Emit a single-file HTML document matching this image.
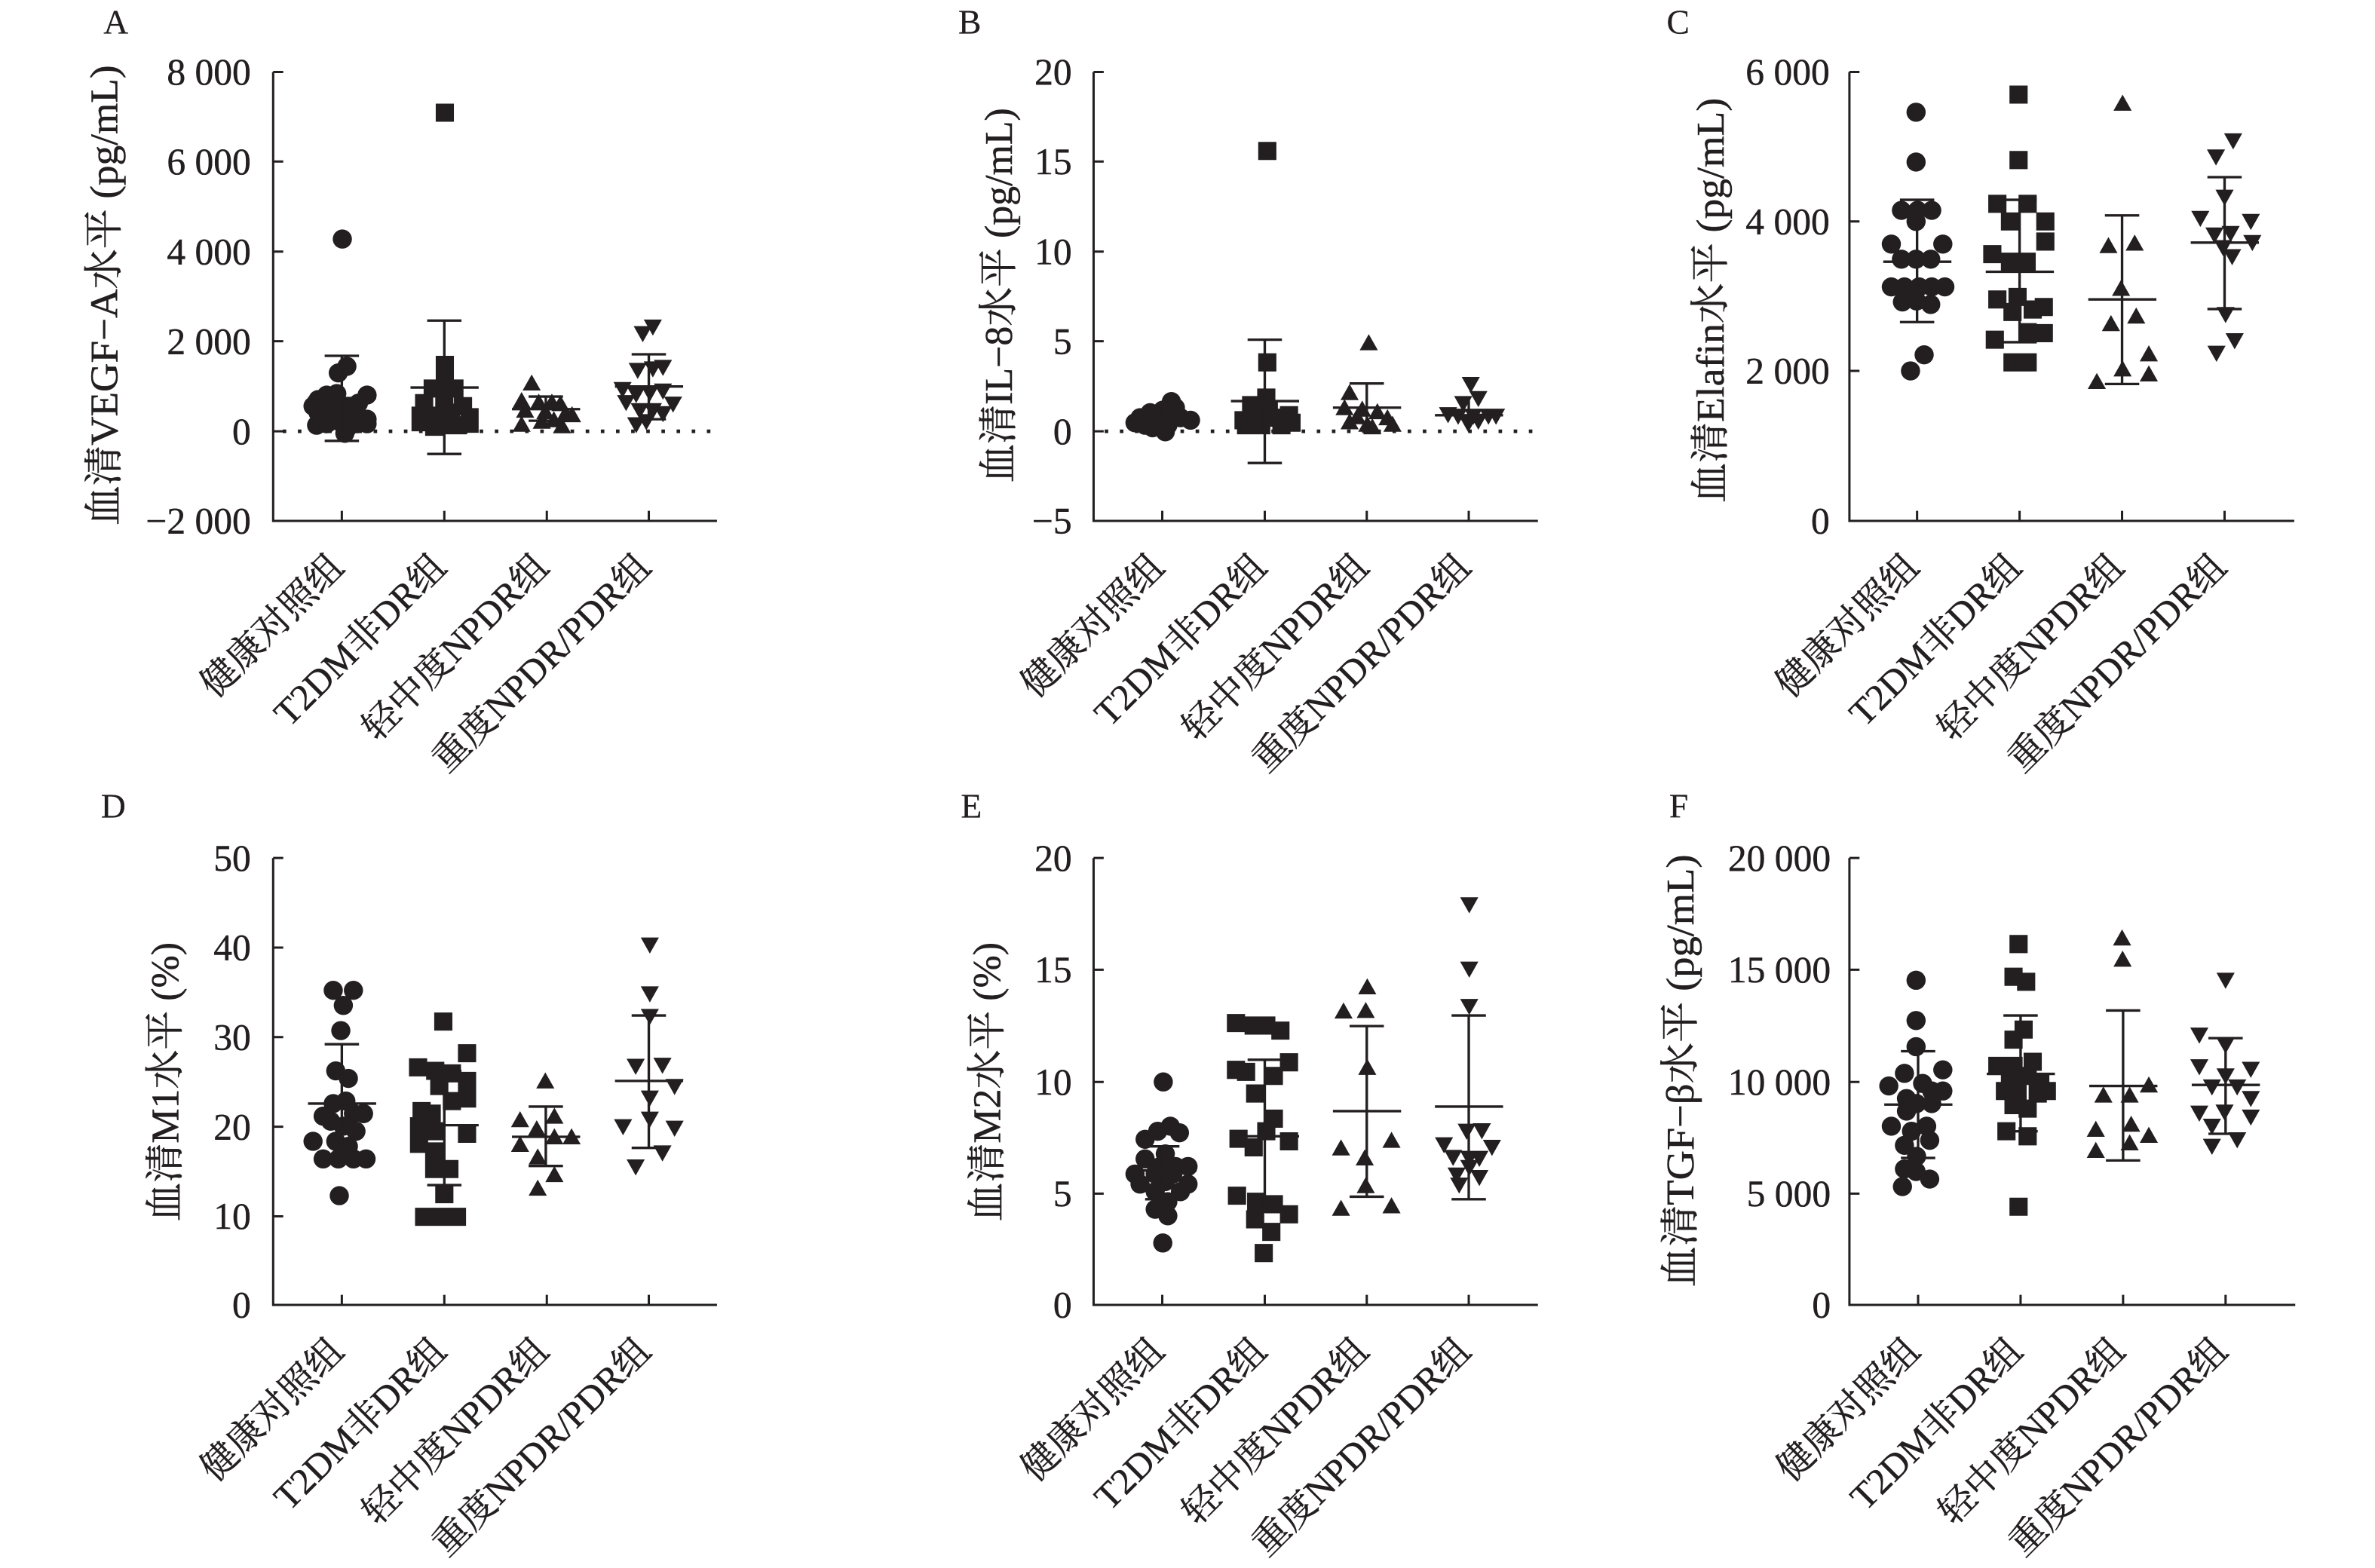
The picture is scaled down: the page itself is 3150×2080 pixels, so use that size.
<!DOCTYPE html>
<html><head><meta charset="utf-8">
<style>
html,body{margin:0;padding:0;background:#fff;}
svg{display:block;}
text{font-family:"Liberation Serif","Noto Serif CJK SC",serif;fill:#231f20;stroke:#231f20;stroke-width:0.7;}
.tk{font-size:74px;text-anchor:end;}
.cl{font-size:73px;text-anchor:end;}
.yl{font-size:78px;text-anchor:middle;}
.lt{font-size:68px;stroke-width:0.4;}
.ax{fill:none;stroke:#231f20;stroke-width:4.5;}
.eb{fill:none;stroke:#231f20;stroke-width:5;}
.dot{fill:none;stroke:#231f20;stroke-width:7;stroke-dasharray:7 23;}
.mk{fill:#231f20;stroke:none;}
</style></head>
<body>
<svg width="3150" height="2080" viewBox="0 0 3150 2080" xmlns="http://www.w3.org/2000/svg">
<rect width="3150" height="2080" fill="#fff"/>

<!-- ============ PANEL A ============ -->
<g transform="translate(0,0) scale(0.66967,0.6676)">
<text class="lt" x="205" y="67">A</text>
<path class="ax" d="M541 143V1035H1420 M541 143h20 M541 321h20 M541 500h20 M541 678h20 M541 857h20 M677 1035v-20 M880 1035v-20 M1083 1035v-20 M1285 1035v-20"/>
<text class="tk" x="497" y="168">8 000</text>
<text class="tk" x="497" y="346">6 000</text>
<text class="tk" x="497" y="525">4 000</text>
<text class="tk" x="497" y="703">2 000</text>
<text class="tk" x="497" y="882">0</text>
<text class="tk" x="497" y="1060">−2 000</text>
<text class="yl" transform="translate(232,587) rotate(-90)" textLength="915" lengthAdjust="spacingAndGlyphs">血清VEGF−A水平 (pg/mL)</text>
<text class="cl" transform="translate(685,1131) rotate(-45)">健康对照组</text>
<text class="cl" transform="translate(888,1131) rotate(-45)">T2DM非DR组</text>
<text class="cl" transform="translate(1091,1131) rotate(-45)">轻中度NPDR组</text>
<text class="cl" transform="translate(1293,1131) rotate(-45)">重度NPDR/PDR组</text>
<path class="dot" d="M560 857H1420"/>
<g class="mk">
<circle cx="678" cy="475" r="19"/><circle cx="670" cy="741" r="19"/><circle cx="687" cy="728" r="19"/><circle cx="630" cy="794" r="19"/><circle cx="647" cy="785" r="19"/><circle cx="667" cy="782" r="19"/><circle cx="727" cy="785" r="19"/><circle cx="710" cy="801" r="19"/><circle cx="630" cy="820" r="19"/><circle cx="653" cy="814" r="19"/><circle cx="680" cy="807" r="19"/><circle cx="700" cy="823" r="19"/><circle cx="727" cy="833" r="19"/><circle cx="627" cy="845" r="19"/><circle cx="647" cy="842" r="19"/><circle cx="687" cy="852" r="19"/><circle cx="707" cy="842" r="19"/><circle cx="727" cy="842" r="19"/><circle cx="683" cy="861" r="19"/><circle cx="667" cy="836" r="19"/><circle cx="640" cy="829" r="19"/><circle cx="620" cy="807" r="19"/>
<path d="M881 224m-18-18h36v36h-36z M881 725m-18-18h36v36h-36z M881 750m-18-18h36v36h-36z M857 772m-18-18h36v36h-36z M900 772m-18-18h36v36h-36z M840 801m-18-18h36v36h-36z M880 794m-18-18h36v36h-36z M917 807m-18-18h36v36h-36z M833 826m-18-18h36v36h-36z M860 826m-18-18h36v36h-36z M893 820m-18-18h36v36h-36z M930 829m-18-18h36v36h-36z M833 839m-18-18h36v36h-36z M930 842m-18-18h36v36h-36z M880 845m-18-18h36v36h-36z M860 848m-18-18h36v36h-36z M907 845m-18-18h36v36h-36z M881 763m-18-18h36v36h-36z"/>
<path d="M1053 763m0-19l18 32h-36z M1033 798m0-19l18 32h-36z M1067 801m0-19l18 32h-36z M1093 801m0-19l18 32h-36z M1110 804m0-19l18 32h-36z M1040 817m0-19l18 32h-36z M1080 820m0-19l18 32h-36z M1120 823m0-19l18 32h-36z M1133 826m0-19l18 32h-36z M1033 845m0-19l18 32h-36z M1073 839m0-19l18 32h-36z M1113 848m0-19l18 32h-36z M1097 836m0-19l18 32h-36z"/>
<path d="M1273 661m-18-13h36l-18 32z M1293 648m-18-13h36l-18 32z M1263 734m-18-13h36l-18 32z M1293 731m-18-13h36l-18 32z M1313 728m-18-13h36l-18 32z M1233 772m-18-13h36l-18 32z M1260 782m-18-13h36l-18 32z M1287 779m-18-13h36l-18 32z M1313 775m-18-13h36l-18 32z M1240 798m-18-13h36l-18 32z M1267 814m-18-13h36l-18 32z M1293 814m-18-13h36l-18 32z M1333 801m-18-13h36l-18 32z M1313 820m-18-13h36l-18 32z M1260 842m-18-13h36l-18 32z M1280 836m-18-13h36l-18 32z"/>
</g>
<path class="eb" d="M677 707V876 M643 707h68 M610 791h135 M643 876h68
M880 637V902 M846 637h68 M813 770h135 M846 902h68
M1081 788V836 M1047 788h68 M1014 813h135 M1047 836h68
M1285 704V833 M1251 704h68 M1218 768h135 M1251 833h68"/>
</g>

<!-- ============ PANEL B ============ -->
<g transform="translate(1050,0) scale(0.66967,0.6676)">
<text class="lt" x="330" y="67">B</text>
<path class="ax" d="M598 143V1035H1478 M598 143h20 M598 321h20 M598 500h20 M598 678h20 M598 857h20 M734 1035v-20 M937 1035v-20 M1139 1035v-20 M1341 1035v-20"/>
<text class="tk" x="555" y="168">20</text>
<text class="tk" x="555" y="346">15</text>
<text class="tk" x="555" y="525">10</text>
<text class="tk" x="555" y="703">5</text>
<text class="tk" x="555" y="882">0</text>
<text class="tk" x="555" y="1060">−5</text>
<text class="yl" transform="translate(436,587) rotate(-90)" textLength="745" lengthAdjust="spacingAndGlyphs">血清IL−8水平 (pg/mL)</text>
<text class="cl" transform="translate(742,1131) rotate(-45)">健康对照组</text>
<text class="cl" transform="translate(945,1131) rotate(-45)">T2DM非DR组</text>
<text class="cl" transform="translate(1147,1131) rotate(-45)">轻中度NPDR组</text>
<text class="cl" transform="translate(1349,1131) rotate(-45)">重度NPDR/PDR组</text>
<path class="dot" d="M620 857H1478"/>
<g class="mk">
<circle cx="690" cy="830" r="19"/><circle cx="710" cy="820" r="19"/><circle cx="735" cy="815" r="19"/><circle cx="760" cy="810" r="19"/><circle cx="752" cy="798" r="19"/><circle cx="730" cy="835" r="19"/><circle cx="700" cy="845" r="19"/><circle cx="715" cy="850" r="19"/><circle cx="745" cy="845" r="19"/><circle cx="770" cy="830" r="19"/><circle cx="790" cy="835" r="19"/><circle cx="720" cy="825" r="19"/><circle cx="755" cy="825" r="19"/><circle cx="680" cy="840" r="19"/><circle cx="740" cy="858" r="19"/>
<path d="M942 300m-18-18h36v36h-36z M942 720m-18-18h36v36h-36z M940 790m-18-18h36v36h-36z M910 805m-18-18h36v36h-36z M920 830m-18-18h36v36h-36z M895 835m-18-18h36v36h-36z M960 830m-18-18h36v36h-36z M985 825m-18-18h36v36h-36z M900 845m-18-18h36v36h-36z M930 845m-18-18h36v36h-36z M970 845m-18-18h36v36h-36z M990 840m-18-18h36v36h-36z M915 825m-18-18h36v36h-36z M945 815m-18-18h36v36h-36z"/>
<path d="M1143 683m0-19l18 32h-36z M1105 782m0-19l18 32h-36z M1095 812m0-19l18 32h-36z M1130 815m0-19l18 32h-36z M1160 820m0-19l18 32h-36z M1180 832m0-19l18 32h-36z M1105 840m0-19l18 32h-36z M1140 845m0-19l18 32h-36z M1190 845m0-19l18 32h-36z M1120 830m0-19l18 32h-36z M1150 850m0-19l18 32h-36z"/>
<path d="M1345 762m-18-13h36l-18 32z M1360 790m-18-13h36l-18 32z M1330 800m-18-13h36l-18 32z M1300 822m-18-13h36l-18 32z M1320 825m-18-13h36l-18 32z M1350 825m-18-13h36l-18 32z M1380 825m-18-13h36l-18 32z M1395 825m-18-13h36l-18 32z M1340 840m-18-13h36l-18 32z M1360 835m-18-13h36l-18 32z"/>
</g>
<path class="eb" d="M734 815V850 M667 832h135
M937 675V920 M903 675h68 M870 797h135 M903 920h68
M1139 762V852 M1105 762h68 M1072 810h135
M1341 795V852 M1274 825h135"/>
</g>

<!-- ============ PANEL C ============ -->
<g transform="translate(2100,0) scale(0.66967,0.6676)">
<text class="lt" x="165" y="67">C</text>
<path class="ax" d="M527 143V1035H1408 M527 143h20 M527 440h20 M527 737h20 M661 1035v-20 M864 1035v-20 M1067 1035v-20 M1270 1035v-20"/>
<text class="tk" x="488" y="168">6 000</text>
<text class="tk" x="488" y="465">4 000</text>
<text class="tk" x="488" y="762">2 000</text>
<text class="tk" x="488" y="1060">0</text>
<text class="yl" transform="translate(278,597) rotate(-90)" textLength="805" lengthAdjust="spacingAndGlyphs">血清Elafin水平 (pg/mL)</text>
<text class="cl" transform="translate(669,1131) rotate(-45)">健康对照组</text>
<text class="cl" transform="translate(872,1131) rotate(-45)">T2DM非DR组</text>
<text class="cl" transform="translate(1075,1131) rotate(-45)">轻中度NPDR组</text>
<text class="cl" transform="translate(1278,1131) rotate(-45)">重度NPDR/PDR组</text>
<g class="mk">
<circle cx="659" cy="223" r="19"/><circle cx="659" cy="322" r="19"/><circle cx="630" cy="418" r="19"/><circle cx="662" cy="418" r="19"/><circle cx="690" cy="418" r="19"/><circle cx="659" cy="440" r="19"/><circle cx="610" cy="485" r="19"/><circle cx="712" cy="485" r="19"/><circle cx="630" cy="515" r="19"/><circle cx="659" cy="515" r="19"/><circle cx="688" cy="515" r="19"/><circle cx="610" cy="570" r="19"/><circle cx="636" cy="570" r="19"/><circle cx="665" cy="570" r="19"/><circle cx="690" cy="570" r="19"/><circle cx="716" cy="570" r="19"/><circle cx="632" cy="600" r="19"/><circle cx="660" cy="598" r="19"/><circle cx="688" cy="605" r="19"/><circle cx="675" cy="705" r="19"/><circle cx="648" cy="737" r="19"/>
<path d="M862 188m-18-18h36v36h-36z M862 318m-18-18h36v36h-36z M820 405m-18-18h36v36h-36z M880 405m-18-18h36v36h-36z M845 440m-18-18h36v36h-36z M915 440m-18-18h36v36h-36z M915 480m-18-18h36v36h-36z M810 505m-18-18h36v36h-36z M845 520m-18-18h36v36h-36z M878 520m-18-18h36v36h-36z M820 595m-18-18h36v36h-36z M860 590m-18-18h36v36h-36z M890 615m-18-18h36v36h-36z M850 620m-18-18h36v36h-36z M912 610m-18-18h36v36h-36z M815 675m-18-18h36v36h-36z M880 660m-18-18h36v36h-36z M912 662m-18-18h36v36h-36z M850 720m-18-18h36v36h-36z M880 720m-18-18h36v36h-36z"/>
<path d="M1068 207m0-19l18 32h-36z M1040 490m0-19l18 32h-36z M1092 485m0-19l18 32h-36z M1065 575m0-19l18 32h-36z M1045 645m0-19l18 32h-36z M1095 630m0-19l18 32h-36z M1068 735m0-19l18 32h-36z M1120 705m0-19l18 32h-36z M1120 745m0-19l18 32h-36z M1017 760m0-19l18 32h-36z"/>
<path d="M1287 278m-18-13h36l-18 32z M1253 310m-18-13h36l-18 32z M1270 390m-18-13h36l-18 32z M1222 432m-18-13h36l-18 32z M1322 438m-18-13h36l-18 32z M1250 465m-18-13h36l-18 32z M1282 462m-18-13h36l-18 32z M1267 490m-18-13h36l-18 32z M1325 480m-18-13h36l-18 32z M1285 508m-18-13h36l-18 32z M1272 623m-18-13h36l-18 32z M1254 700m-18-13h36l-18 32z M1290 675m-18-13h36l-18 32z"/>
</g>
<path class="eb" d="M661 397V640 M627 397h68 M594 520h135 M627 640h68
M864 397V680 M830 397h68 M797 540h135 M830 680h68
M1067 428V763 M1033 428h68 M1000 595h135 M1033 763h68
M1270 352V614 M1236 352h68 M1203 482h135 M1236 614h68"/>
</g>

<!-- ============ PANEL D ============ -->
<g transform="translate(0,1040) scale(0.66967,0.6676)">
<text class="lt" x="200" y="67">D</text>
<path class="ax" d="M541 147V1035H1420 M541 147h20 M541 325h20 M541 503h20 M541 681h20 M541 859h20 M677 1035v-20 M880 1035v-20 M1083 1035v-20 M1285 1035v-20"/>
<text class="tk" x="497" y="172">50</text>
<text class="tk" x="497" y="350">40</text>
<text class="tk" x="497" y="528">30</text>
<text class="tk" x="497" y="706">20</text>
<text class="tk" x="497" y="884">10</text>
<text class="tk" x="497" y="1060">0</text>
<text class="yl" transform="translate(353,592) rotate(-90)" textLength="555" lengthAdjust="spacingAndGlyphs">血清M1水平 (%)</text>
<text class="cl" transform="translate(685,1131) rotate(-45)">健康对照组</text>
<text class="cl" transform="translate(888,1131) rotate(-45)">T2DM非DR组</text>
<text class="cl" transform="translate(1091,1131) rotate(-45)">轻中度NPDR组</text>
<text class="cl" transform="translate(1293,1131) rotate(-45)">重度NPDR/PDR组</text>
<g class="mk">
<circle cx="660" cy="410" r="19"/><circle cx="700" cy="410" r="19"/><circle cx="680" cy="440" r="19"/><circle cx="675" cy="490" r="19"/><circle cx="665" cy="570" r="19"/><circle cx="690" cy="585" r="19"/><circle cx="685" cy="630" r="19"/><circle cx="660" cy="635" r="19"/><circle cx="640" cy="660" r="19"/><circle cx="700" cy="655" r="19"/><circle cx="720" cy="655" r="19"/><circle cx="655" cy="670" r="19"/><circle cx="680" cy="680" r="19"/><circle cx="705" cy="690" r="19"/><circle cx="620" cy="710" r="19"/><circle cx="665" cy="710" r="19"/><circle cx="690" cy="720" r="19"/><circle cx="640" cy="745" r="19"/><circle cx="670" cy="745" r="19"/><circle cx="700" cy="745" r="19"/><circle cx="725" cy="745" r="19"/><circle cx="672" cy="818" r="19"/>
<path d="M878 472m-18-18h36v36h-36z M828 563m-18-18h36v36h-36z M925 535m-18-18h36v36h-36z M862 570m-18-18h36v36h-36z M895 575m-18-18h36v36h-36z M925 590m-18-18h36v36h-36z M870 600m-18-18h36v36h-36z M835 650m-18-18h36v36h-36z M855 655m-18-18h36v36h-36z M925 625m-18-18h36v36h-36z M895 630m-18-18h36v36h-36z M830 680m-18-18h36v36h-36z M860 690m-18-18h36v36h-36z M925 695m-18-18h36v36h-36z M830 715m-18-18h36v36h-36z M860 730m-18-18h36v36h-36z M860 765m-18-18h36v36h-36z M890 765m-18-18h36v36h-36z M880 815m-18-18h36v36h-36z M840 860m-18-18h36v36h-36z M870 860m-18-18h36v36h-36z M905 860m-18-18h36v36h-36z"/>
<path d="M1080 592m0-19l18 32h-36z M1030 669m0-19l18 32h-36z M1098 662m0-19l18 32h-36z M1063 687m0-19l18 32h-36z M1098 703m0-19l18 32h-36z M1132 703m0-19l18 32h-36z M1030 718m0-19l18 32h-36z M1065 743m0-19l18 32h-36z M1098 778m0-19l18 32h-36z M1065 805m0-19l18 32h-36z"/>
<path d="M1287 318m-18-13h36l-18 32z M1287 415m-18-13h36l-18 32z M1287 460m-18-13h36l-18 32z M1259 559m-18-13h36l-18 32z M1312 557m-18-13h36l-18 32z M1336 599m-18-13h36l-18 32z M1287 622m-18-13h36l-18 32z M1287 664m-18-13h36l-18 32z M1234 679m-18-13h36l-18 32z M1336 682m-18-13h36l-18 32z M1312 731m-18-13h36l-18 32z M1259 759m-18-13h36l-18 32z"/>
</g>
<path class="eb" d="M677 517V743 M643 517h68 M610 635h135 M643 743h68
M880 570V797 M846 570h68 M813 678h135 M846 797h68
M1081 641V759 M1047 641h68 M1014 701h135 M1047 759h68
M1285 460V723 M1251 460h68 M1218 590h135 M1251 723h68"/>
</g>

<!-- ============ PANEL E ============ -->
<g transform="translate(1050,1040) scale(0.66967,0.6676)">
<text class="lt" x="335" y="67">E</text>
<path class="ax" d="M598 147V1035H1478 M598 147h20 M598 369h20 M598 592h20 M598 814h20 M734 1035v-20 M937 1035v-20 M1139 1035v-20 M1341 1035v-20"/>
<text class="tk" x="555" y="172">20</text>
<text class="tk" x="555" y="394">15</text>
<text class="tk" x="555" y="617">10</text>
<text class="tk" x="555" y="839">5</text>
<text class="tk" x="555" y="1060">0</text>
<text class="yl" transform="translate(413,592) rotate(-90)" textLength="555" lengthAdjust="spacingAndGlyphs">血清M2水平 (%)</text>
<text class="cl" transform="translate(742,1131) rotate(-45)">健康对照组</text>
<text class="cl" transform="translate(945,1131) rotate(-45)">T2DM非DR组</text>
<text class="cl" transform="translate(1147,1131) rotate(-45)">轻中度NPDR组</text>
<text class="cl" transform="translate(1349,1131) rotate(-45)">重度NPDR/PDR组</text>
<g class="mk">
<circle cx="736" cy="592" r="19"/><circle cx="700" cy="706" r="19"/><circle cx="750" cy="680" r="19"/><circle cx="725" cy="690" r="19"/><circle cx="768" cy="693" r="19"/><circle cx="740" cy="735" r="19"/><circle cx="700" cy="745" r="19"/><circle cx="730" cy="760" r="19"/><circle cx="760" cy="760" r="19"/><circle cx="785" cy="760" r="19"/><circle cx="680" cy="775" r="19"/><circle cx="720" cy="775" r="19"/><circle cx="755" cy="775" r="19"/><circle cx="690" cy="795" r="19"/><circle cx="740" cy="790" r="19"/><circle cx="785" cy="795" r="19"/><circle cx="720" cy="810" r="19"/><circle cx="770" cy="810" r="19"/><circle cx="745" cy="830" r="19"/><circle cx="720" cy="845" r="19"/><circle cx="745" cy="858" r="19"/><circle cx="735" cy="912" r="19"/>
<path d="M880 475m-18-18h36v36h-36z M915 480m-18-18h36v36h-36z M940 480m-18-18h36v36h-36z M968 490m-18-18h36v36h-36z M880 568m-18-18h36v36h-36z M900 572m-18-18h36v36h-36z M955 580m-18-18h36v36h-36z M985 553m-18-18h36v36h-36z M918 615m-18-18h36v36h-36z M955 665m-18-18h36v36h-36z M885 705m-18-18h36v36h-36z M940 690m-18-18h36v36h-36z M915 722m-18-18h36v36h-36z M985 710m-18-18h36v36h-36z M882 818m-18-18h36v36h-36z M920 830m-18-18h36v36h-36z M955 835m-18-18h36v36h-36z M985 855m-18-18h36v36h-36z M918 865m-18-18h36v36h-36z M950 890m-18-18h36v36h-36z M935 932m-18-18h36v36h-36z"/>
<path d="M1140 405m0-19l18 32h-36z M1093 453m0-19l18 32h-36z M1137 452m0-19l18 32h-36z M1140 565m0-19l18 32h-36z M1088 725m0-19l18 32h-36z M1188 710m0-19l18 32h-36z M1135 745m0-19l18 32h-36z M1137 800m0-19l18 32h-36z M1088 845m0-19l18 32h-36z M1188 840m0-19l18 32h-36z"/>
<path d="M1342 238m-18-13h36l-18 32z M1342 366m-18-13h36l-18 32z M1342 440m-18-13h36l-18 32z M1292 715m-18-13h36l-18 32z M1337 688m-18-13h36l-18 32z M1367 687m-18-13h36l-18 32z M1387 720m-18-13h36l-18 32z M1310 740m-18-13h36l-18 32z M1342 742m-18-13h36l-18 32z M1362 742m-18-13h36l-18 32z M1317 775m-18-13h36l-18 32z M1362 780m-18-13h36l-18 32z M1322 795m-18-13h36l-18 32z M1342 760m-18-13h36l-18 32z"/>
</g>
<path class="eb" d="M734 720V825 M700 720h68 M667 768h135 M700 825h68
M937 548V850 M903 548h68 M870 700h135 M903 850h68
M1139 481V820 M1105 481h68 M1072 650h135 M1105 820h68
M1341 460V825 M1307 460h68 M1274 641h135 M1307 825h68"/>
</g>

<!-- ============ PANEL F ============ -->
<g transform="translate(2100,1040) scale(0.66967,0.6676)">
<text class="lt" x="170" y="67">F</text>
<path class="ax" d="M527 147V1035H1410 M527 147h20 M527 369h20 M527 592h20 M527 814h20 M663 1035v-20 M866 1035v-20 M1069 1035v-20 M1272 1035v-20"/>
<text class="tk" x="490" y="172">20 000</text>
<text class="tk" x="490" y="394">15 000</text>
<text class="tk" x="490" y="617">10 000</text>
<text class="tk" x="490" y="839">5 000</text>
<text class="tk" x="490" y="1060">0</text>
<text class="yl" transform="translate(218,570) rotate(-90)" textLength="860" lengthAdjust="spacingAndGlyphs">血清TGF−β水平 (pg/mL)</text>
<text class="cl" transform="translate(671,1131) rotate(-45)">健康对照组</text>
<text class="cl" transform="translate(874,1131) rotate(-45)">T2DM非DR组</text>
<text class="cl" transform="translate(1077,1131) rotate(-45)">轻中度NPDR组</text>
<text class="cl" transform="translate(1280,1131) rotate(-45)">重度NPDR/PDR组</text>
<g class="mk">
<circle cx="659" cy="390" r="19"/><circle cx="659" cy="470" r="19"/><circle cx="659" cy="522" r="19"/><circle cx="636" cy="575" r="19"/><circle cx="712" cy="568" r="19"/><circle cx="605" cy="600" r="19"/><circle cx="672" cy="595" r="19"/><circle cx="690" cy="610" r="19"/><circle cx="712" cy="610" r="19"/><circle cx="640" cy="625" r="19"/><circle cx="660" cy="635" r="19"/><circle cx="690" cy="635" r="19"/><circle cx="640" cy="650" r="19"/><circle cx="610" cy="680" r="19"/><circle cx="650" cy="690" r="19"/><circle cx="680" cy="680" r="19"/><circle cx="636" cy="718" r="19"/><circle cx="686" cy="708" r="19"/><circle cx="660" cy="740" r="19"/><circle cx="636" cy="765" r="19"/><circle cx="686" cy="785" r="19"/><circle cx="632" cy="800" r="19"/><circle cx="659" cy="770" r="19"/>
<path d="M862 318m-18-18h36v36h-36z M852 383m-18-18h36v36h-36z M877 393m-18-18h36v36h-36z M852 508m-18-18h36v36h-36z M872 488m-18-18h36v36h-36z M820 560m-18-18h36v36h-36z M852 560m-18-18h36v36h-36z M890 552m-18-18h36v36h-36z M845 578m-18-18h36v36h-36z M880 580m-18-18h36v36h-36z M905 592m-18-18h36v36h-36z M835 610m-18-18h36v36h-36z M860 612m-18-18h36v36h-36z M900 615m-18-18h36v36h-36z M918 610m-18-18h36v36h-36z M852 638m-18-18h36v36h-36z M880 645m-18-18h36v36h-36z M838 690m-18-18h36v36h-36z M880 700m-18-18h36v36h-36z M862 840m-18-18h36v36h-36z"/>
<path d="M1067 308m0-19l18 32h-36z M1068 350m0-19l18 32h-36z M1015 688m0-19l18 32h-36z M1030 620m0-19l18 32h-36z M1082 620m0-19l18 32h-36z M1120 600m0-19l18 32h-36z M1085 678m0-19l18 32h-36z M1120 700m0-19l18 32h-36z M1082 715m0-19l18 32h-36z M1015 730m0-19l18 32h-36z"/>
<path d="M1272 388m-18-13h36l-18 32z M1220 497m-18-13h36l-18 32z M1272 517m-18-13h36l-18 32z M1220 560m-18-13h36l-18 32z M1272 578m-18-13h36l-18 32z M1322 565m-18-13h36l-18 32z M1245 600m-18-13h36l-18 32z M1295 600m-18-13h36l-18 32z M1220 652m-18-13h36l-18 32z M1270 650m-18-13h36l-18 32z M1322 623m-18-13h36l-18 32z M1245 678m-18-13h36l-18 32z M1322 660m-18-13h36l-18 32z M1295 705m-18-13h36l-18 32z M1245 718m-18-13h36l-18 32z"/>
</g>
<path class="eb" d="M663 531V743 M629 531h68 M596 637h135 M629 743h68
M866 460V690 M832 460h68 M799 576h135 M832 690h68
M1069 450V748 M1035 450h68 M1002 600h135 M1035 748h68
M1272 505V695 M1238 505h68 M1205 598h135 M1238 695h68"/>
</g>
</svg>
</body></html>
